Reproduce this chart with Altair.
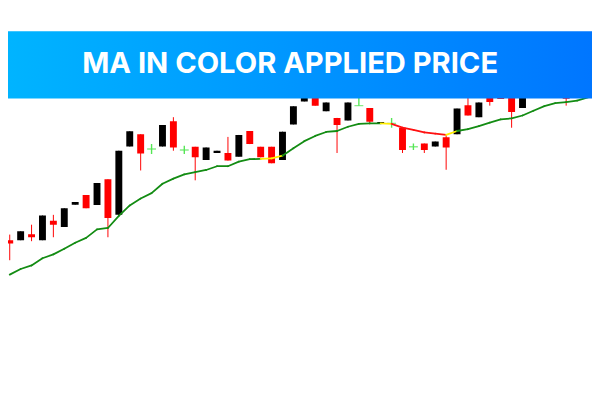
import altair as alt
import pandas as pd

# ---- data (price units, higher = up) ----
opens  = [159.3,159.3,165.3,159.3,179,172.7,195.3,205,195,221,185,254.3,266.7,251.7,254.3,280,250.7,254,240.7,247.7,
          247.7,244,270,254,254,240.7,276.7,300,310,290,283.3,280.7,295.7,293.3,277.3,277.7,273.3,254,257.3,254.3,
          263.7,266.7,296,284,310,315,312,293.3,308,325,338,320,305]
highs  = [165,168.3,175,184.3,185,191.7,198,205,217.3,221,250,269.7,266.7,256.7,276,284,255,254,253.3,250,
          264,266,270,254,254,269.3,295,312,310,299,283.3,299,310,293.3,279,283.3,273.3,257.3,257.3,259.3,
          265,292.7,312,299,310,315,312,315,330,340,338,320,330]
lows   = [139,159.3,158.3,159.3,162.3,172.7,195.3,191.7,195,162.3,185,254.3,230,246.7,254.3,250,246.7,220,240.7,247.7,
          240,244,256.7,243.3,237.3,240.7,276.7,300,295.7,290,247.7,280.7,295.7,277,277.3,273.3,247.7,250.7,247.7,254.3,
          230.7,266.7,285.7,284,295.7,302.5,273.3,293.3,308,325,320,295.7,305]
closes = [156,168.3,162.3,184.3,175,191.7,198,191.7,217.3,181.7,250,269.7,247.3,251.7,276,253.3,250.7,243.3,253.3,250,
          240,266,256.7,243.3,237.3,269.3,295,312,295.7,299,276,299,295.7,279.3,279,277.7,250.7,254,250.7,259.3,
          253.3,292.7,285.7,299,299.3,302.5,289.3,315,330,340,320,302.7,330]

ma_values = [124.4,130.1,133.7,141,144.9,150.6,156.7,161.7,170.3,171.7,184,194.5,201.5,207,216.5,221.7,226,228.2,230.5,234.3,
             234.3,239,241.5,241.7,242.2,245,252.5,259.7,265,269,270,274.3,277.2,277.7,277.7,277.3,273.5,271.2,268.5,267.3,
             266,270,271.8,275,278.5,281.7,282.8,285.7,290.5,295.2,298.3,299.3,300.8,304]

# colour state of each MA segment (from point i to i+1)
ma_state = (["up"] * 23 + ["flat", "flat"] + ["up"] * 9 + ["flat"] + ["down"] * 5 + ["flat"] + ["up"] * 12)

title_text = "MA IN COLOR APPLIED PRICE"

# ---- tables ----
n = len(opens)
candles = pd.DataFrame({
    "i": list(range(n)), "open": opens, "high": highs, "low": lows, "close": closes,
})
candles["kind"] = ["doji" if c == o else ("up" if c > o else "down") for o, c in zip(opens, closes)]
candle_colors = {"up": "#000000", "down": "#ff0000", "doji": "#55e655"}
candles["col"] = candles["kind"].map(candle_colors)

seg_rows = []
ma_colors = {"up": "#138c13", "down": "#ff1010", "flat": "#ffee00"}
for k, st in enumerate(ma_state):
    for j in (k, k + 1):
        seg_rows.append({"seg": k, "i": j, "ma": ma_values[j], "col": ma_colors[st]})
segs = pd.DataFrame(seg_rows)

xs = alt.Scale(domain=[0.2933, 52.916], nice=False, zero=False)
ys = alt.Scale(domain=[0, 392], nice=False, zero=False)
X = alt.X("i:Q", scale=xs, axis=None)

wicks = alt.Chart(candles).transform_filter(alt.datum.kind != "doji").mark_rule(strokeWidth=1, clip=True).encode(
    x=X,
    y=alt.Y("low:Q", scale=ys, axis=None),
    y2="high:Q",
    color=alt.Color("col:N", scale=None),
)

doji_wicks = alt.Chart(candles).transform_filter(alt.datum.kind == "doji").mark_rule(strokeWidth=1.4, clip=True).encode(
    x=X,
    y=alt.Y("low:Q", scale=ys, axis=None),
    y2="high:Q",
    color=alt.Color("col:N", scale=None),
)

bodies = alt.Chart(candles).transform_filter(alt.datum.kind != "doji").mark_bar(size=7, clip=True).encode(
    x=X,
    y=alt.Y("open:Q", scale=ys, axis=None),
    y2="close:Q",
    color=alt.Color("col:N", scale=None),
)

dojis = alt.Chart(candles).transform_filter(alt.datum.kind == "doji").mark_tick(
    orient="horizontal", size=9, thickness=1.4, clip=True
).encode(
    x=X,
    y=alt.Y("close:Q", scale=ys, axis=None),
    color=alt.Color("col:N", scale=None),
)

ma_line = alt.Chart(segs).mark_line(strokeWidth=1.8, strokeCap="round", clip=True).encode(
    x=X,
    y=alt.Y("ma:Q", scale=ys, axis=None),
    detail="seg:N",
    color=alt.Color("col:N", scale=None),
)

banner = alt.Chart(pd.DataFrame({"t": [title_text]})).mark_rect(
    color=alt.Gradient(
        gradient="linear",
        stops=[alt.GradientStop(color="#00b4ff", offset=0), alt.GradientStop(color="#0076ff", offset=1)],
        x1=0, x2=1, y1=0, y2=0,
    )
).encode(x=alt.value(0), x2=alt.value(592), y=alt.value(21), y2=alt.value(89))

title = alt.Chart(pd.DataFrame({"t": [title_text]})).mark_text(
    font="Inter", fontSize=29.5, fontWeight="bold", color="#ffffff", align="center", baseline="alphabetic"
).encode(text="t:N", x=alt.value(286), y=alt.value(62.7))

chart = alt.layer(wicks, doji_wicks, bodies, dojis, ma_line, banner, title).properties(
    width=592, height=392, padding=0, autosize=alt.AutoSizeParams(type="none")
).configure_view(stroke=None)

chart.save("out.html", embed_options={"renderer": "svg", "actions": False})
